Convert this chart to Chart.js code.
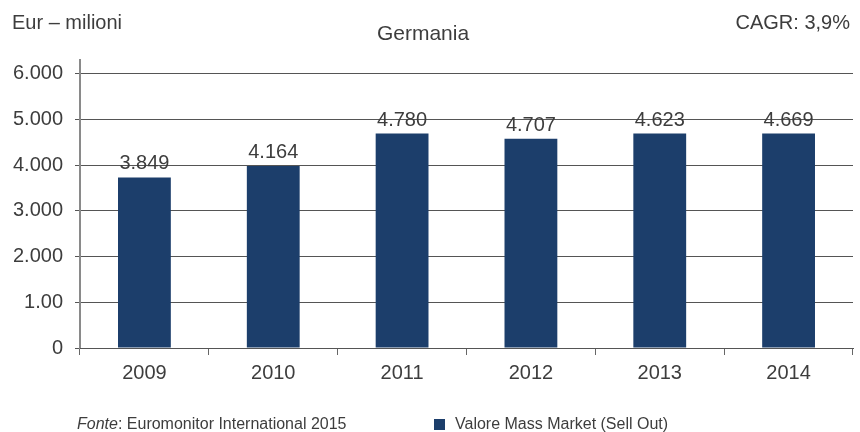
<!DOCTYPE html>
<html>
<head>
<meta charset="utf-8">
<script src="https://cdn.jsdelivr.net/npm/chart.js@4"></script>
<style>
  body { margin: 0; background: #fff; font-family: "Liberation Sans", Arial, sans-serif; color: #3d3d3d; }
  #wrap { position: relative; width: 860px; height: 432px; }
  canvas { position: absolute; left: 0; top: 0; }
  .txt { position: absolute; white-space: nowrap; line-height: 1; }
  #unit { left: 12px; top: 12px; font-size: 20px; }
  #title { left: 0; width: 846px; text-align: center; top: 22px; font-size: 21px; }
  #cagr { right: 10px; top: 12px; font-size: 20px; }
  #fonte { left: 77px; top: 416px; font-size: 16px; }
  #legend { left: 434px; top: 416px; font-size: 16px; }
  #legend span.box { display: inline-block; width: 11px; height: 11px; background: #1c3e6b; margin-right: 10px; vertical-align: -1px; }
</style>
</head>
<body>
<div id="wrap">
  <canvas id="chart" width="860" height="432"></canvas>
  <div class="txt" id="unit">Eur – milioni</div>
  <div class="txt" id="title">Germania</div>
  <div class="txt" id="cagr">CAGR: 3,9%</div>
  <div class="txt" id="fonte"><i>Fonte</i>: Euromonitor International 2015</div>
  <div class="txt" id="legend"><span class="box"></span><span id="legendText"></span></div>
</div>
<script>
const anni = ['2009', '2010', '2011', '2012', '2013', '2014'];
const valori = [3730, 3980, 4690, 4580, 4690, 4690];
const etichette = ['3.849', '4.164', '4.780', '4.707', '4.623', '4.669'];
const tickLabels = ['0', '1.00', '2.000', '3.000', '4.000', '5.000', '6.000'];
const serieNome = 'Valore Mass Market (Sell Out)';

document.getElementById('legendText').textContent = serieNome;

const fontFamily = '"Liberation Sans", Arial, sans-serif';

const barLabels = {
    id: 'barLabels',
    afterDatasetsDraw(chart) {
        const ctx = chart.ctx;
        ctx.save();
        ctx.font = '20px ' + fontFamily;
        ctx.fillStyle = '#3d3d3d';
        ctx.textAlign = 'center';
        ctx.textBaseline = 'alphabetic';
        chart.getDatasetMeta(0).data.forEach((bar, i) => {
            ctx.fillText(etichette[i], bar.x, bar.y - 8);
        });
        ctx.restore();
    }
};

new Chart(document.getElementById('chart'), {
    type: 'bar',
    data: {
        labels: anni,
        datasets: [{
            label: serieNome,
            data: valori,
            backgroundColor: '#1c3e6b',
            barPercentage: 0.41,
            categoryPercentage: 1
        }]
    },
    options: {
        responsive: false,
        animation: false,
        layout: { padding: { top: 60, right: 7, left: 0, bottom: 0 } },
        plugins: {
            legend: { display: false },
            tooltip: { enabled: false }
        },
        scales: {
            y: {
                min: 0,
                max: 6300,
                afterBuildTicks: scale => {
                    scale.ticks = tickLabels.map((t, i) => ({ value: i * 1000 }));
                },
                afterFit: scale => { scale.width = 80; },
                border: { color: '#8a8a8a', width: 2 },
                grid: { color: '#555', lineWidth: 1, tickLength: 5 },
                ticks: {
                    padding: 12,
                    color: '#3d3d3d',
                    font: { family: fontFamily, size: 20 },
                    callback: value => tickLabels[Math.round(value / 1000)]
                }
            },
            x: {
                afterFit: scale => { scale.height = 84; },
                border: { color: '#555', width: 1 },
                grid: { drawOnChartArea: false, color: '#666', tickLength: 7 },
                ticks: {
                    padding: 6,
                    color: '#3d3d3d',
                    font: { family: fontFamily, size: 20 }
                }
            }
        }
    },
    plugins: [barLabels]
});
</script>
</body>
</html>
